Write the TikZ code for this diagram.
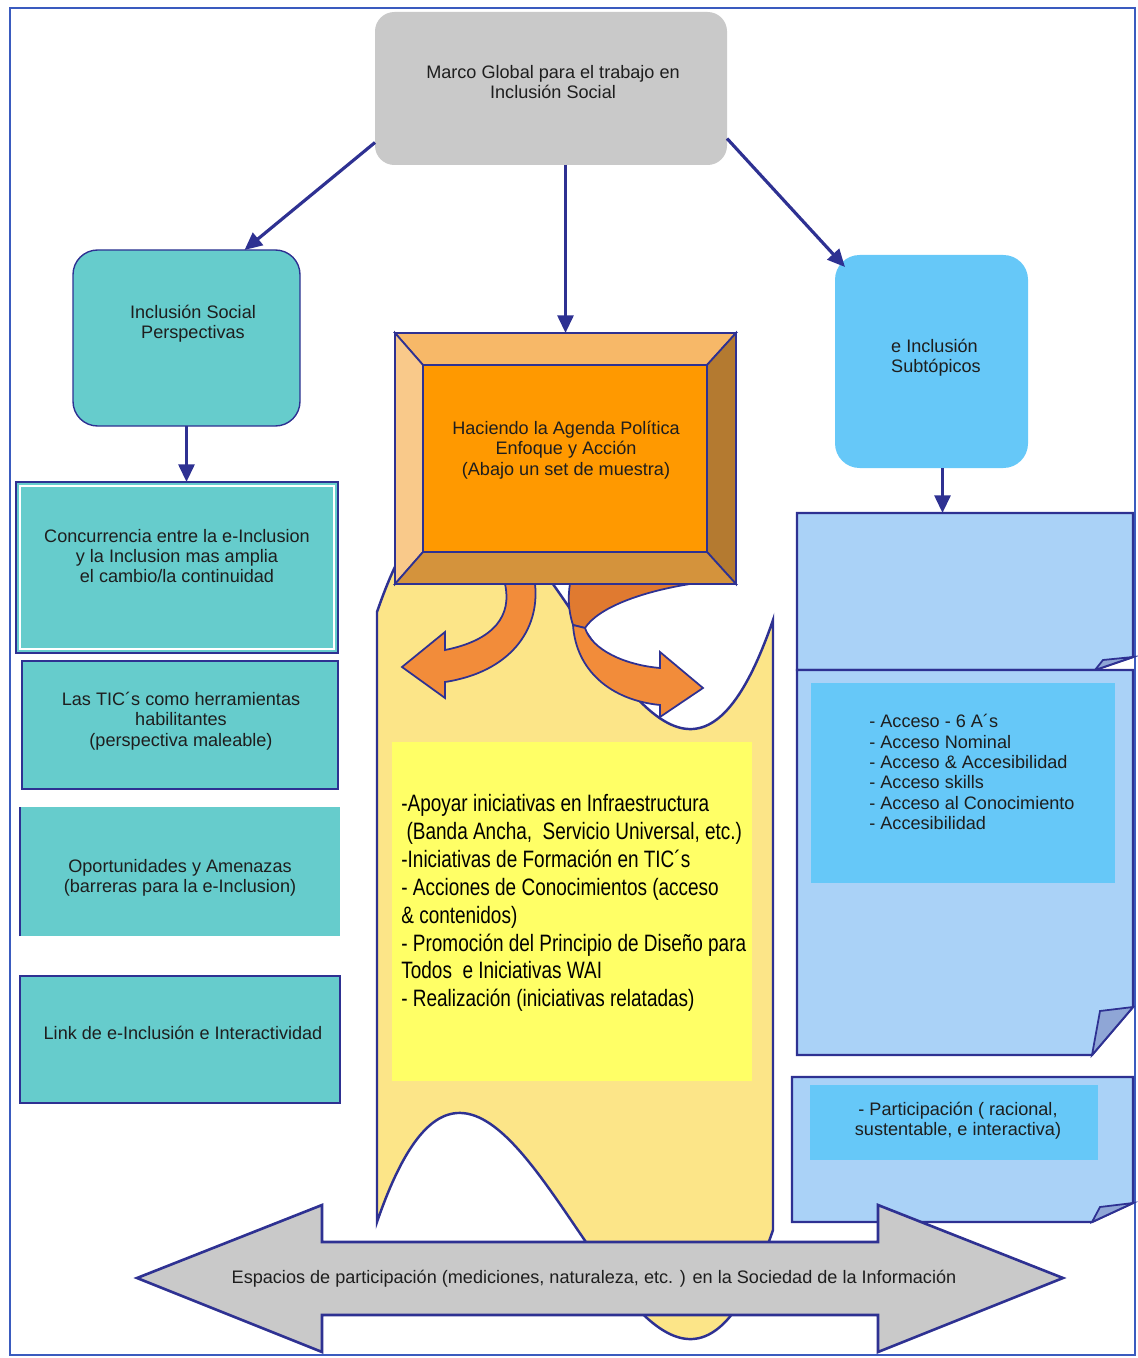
\documentclass[tikz,border=0pt]{standalone}
\usepackage{fontspec}
\setmainfont{Liberation Sans}
\newfontfamily\narrowf[FakeStretch=0.8]{Liberation Sans}
\usetikzlibrary{arrows.meta,fit,calc}
\definecolor{navy}{HTML}{2E3192}
\definecolor{framec}{HTML}{3A5BBF}
\definecolor{grayc}{HTML}{C9C9C9}
\definecolor{tealc}{HTML}{66CCCC}
\definecolor{lblue}{HTML}{66C8F8}
\definecolor{pagec}{HTML}{AAD2F7}
\definecolor{curlc}{HTML}{8FA6D6}
\definecolor{orangec}{HTML}{FF9900}
\definecolor{bevtop}{HTML}{F7B868}
\definecolor{bevleft}{HTML}{F9C98A}
\definecolor{bevright}{HTML}{B47A30}
\definecolor{bevbot}{HTML}{D4933C}
\definecolor{yelbg}{HTML}{FCE588}
\definecolor{yelin}{HTML}{FFFF66}
\definecolor{ribc}{HTML}{F28C3A}
\definecolor{ribd}{HTML}{E07A30}
\definecolor{txtc}{HTML}{1E1E1E}
\newcommand\myfs{\fontsize{10.3}{11.6}\selectfont}
\newcommand\myyfs{\narrowf\fontsize{13.5}{15.9}\selectfont}
\begin{document}
\begin{tikzpicture}[x=0.02cm,y=-0.02cm,
  fitbox/.style={inner sep=0pt, outer sep=0pt},
  txt/.style={font=\myfs, text=txtc, inner sep=0pt, align=center},
  conn/.style={draw=navy, line width=1.8pt, -{Triangle[length=10pt,width=9pt]}},
  edge/.style={draw=navy, line width=1pt}]
\useasboundingbox (0,0) rectangle (1137,1358);
% frame
\draw[framec, line width=1.4pt] (10,8) rectangle (1135,1355);

% yellow wave banner
\draw[edge, fill=yelbg, line width=1.4pt] (377,612) .. controls (508,231) and (642,1001) .. (773,620)
  -- (773,1230) .. controls (642,1611) and (508,841) .. (377,1222) -- cycle;
\node[fitbox, fit={(392,742)(752,1081)}, fill=yelin] (yin) {};

% ribbon arrows
\draw[edge, fill=ribc] (505,584) .. controls (512,615) and (495,640) .. (445,650) -- (445,632) -- (402,667)
  -- (445,698) -- (445,682) .. controls (510,672) and (540,630) .. (535,584) -- cycle;
\draw[edge, fill=ribd] (570,584) -- (690,584) .. controls (640,592) and (598,608) .. (585,628)
  -- (573,625) .. controls (568,610) and (568,595) .. (570,584) -- cycle;
\draw[edge, fill=ribc] (573,625) .. controls (576,670) and (610,700) .. (660,705) -- (660,717) -- (703,688)
  -- (660,652) -- (660,668) .. controls (625,665) and (592,650) .. (585,628) -- cycle;

% top box
\node[fitbox, fit={(375,12)(727,165)}, rounded corners=11pt, fill=grayc] (top) {};

% orange bevel box
\node[fitbox, fit={(395,333)(736,584)}] (obox) {};
\node[fitbox, fit={(423,365)(707,552)}, fill=orangec] (oin) {};
\draw[edge, fill=bevtop] (obox.north west) -- (obox.north east) -- (oin.north east) -- (oin.north west) -- cycle;
\draw[edge, fill=bevleft] (obox.north west) -- (oin.north west) -- (oin.south west) -- (obox.south west) -- cycle;
\draw[edge, fill=bevright] (obox.north east) -- (obox.south east) -- (oin.south east) -- (oin.north east) -- cycle;
\draw[edge, fill=bevbot] (obox.south west) -- (oin.south west) -- (oin.south east) -- (obox.south east) -- cycle;
\draw[navy, line width=1.6pt] (obox.north west) rectangle (obox.south east);

% left column
\node[fitbox, fit={(73,250)(300,426)}, rounded corners=14pt, fill=tealc, draw=navy, line width=0.8pt] (lbox) {};
\node[fitbox, fit={(16,482)(338,653)}, fill=tealc, draw=navy, line width=1pt] (b1) {};
\draw[white, line width=0.8pt] ([shift={(4,4)}]b1.north west) rectangle ([shift={(-4,-4)}]b1.south east);
\node[fitbox, fit={(22,661)(338,789)}, fill=tealc, draw=navy, line width=1pt] (b2) {};
\node[fitbox, fit={(20,807)(340,936)}, fill=tealc] (b3) {};
\draw[navy, line width=1pt] (b3.south west) -- (b3.north west);
\node[fitbox, fit={(20,976)(340,1103)}, fill=tealc, draw=navy, line width=1pt] (b4) {};

% right column
\node[fitbox, fit={(835,255)(1028,468)}, rounded corners=14pt, fill=lblue] (rbox) {};
\node[fitbox, fit={(797,513)(1133,670)}] (p1) {};
\draw[edge, fill=pagec, line width=1.3pt] (p1.north west) -- (p1.north east) -- (1133,657) -- (1095,670) -- (p1.south west) -- cycle;
\draw[edge, fill=curlc] (1095,670) -- (1103,660) -- (1133,657) -- cycle;
\node[fitbox, fit={(797,670)(1133,1055)}] (p2) {};
\draw[edge, fill=pagec, line width=1.3pt] (p2.north west) -- (p2.north east) -- (1133,1007) -- (1092,1055) -- (p2.south west) -- cycle;
\draw[edge, fill=curlc] (1092,1055) -- (1100,1011) -- (1133,1007) -- cycle;
\node[fitbox, fit={(811,683)(1115,883)}, fill=lblue] (p2in) {};
\node[fitbox, fit={(792,1077)(1133,1222)}] (p3) {};
\draw[edge, fill=pagec, line width=1.3pt] (p3.north west) -- (p3.north east) -- (1133,1203) -- (1092,1222) -- (p3.south west) -- cycle;
\draw[edge, fill=curlc] (1092,1222) -- (1100,1207) -- (1133,1203) -- cycle;
\node[fitbox, fit={(810,1085)(1098,1160)}, fill=lblue] (p3in) {};

% connectors
\draw[conn] ([shift={(0,54)}]top.west) -- ([shift={(58,0)}]lbox.north);
\draw[conn] (top.south -| obox.north) -- (obox.north);
\draw[conn] ([shift={(0,50)}]top.east) -- ([shift={(10,12)}]rbox.north west);
\draw[conn] (lbox.south) -- (lbox.south |- b1.north);
\draw[conn] ([shift={(11,0)}]rbox.south) -- ([shift={(11,0)}]rbox.south |- p1.north);

% bottom double arrow
\draw[fill=grayc, draw=navy, line width=1.5pt] (137,1278) -- (322,1205) -- (322,1242) -- (878,1242) -- (878,1205)
  -- (1063,1278) -- (878,1352) -- (878,1315) -- (322,1315) -- (322,1352) -- cycle;

% texts
\node[txt] (ttop) at (553,82) {Marco Global para el trabajo en\\Inclusión Social};
\node[txt] (tl) at (193,324) {Inclusión Social\\Perspectivas};
\node[txt] (t1) at (177,556) {Concurrencia entre la e-Inclusion\\y la Inclusion mas amplia\\el cambio/la continuidad};
\node[txt] (t2) at (181,721) {Las TIC´s como herramientas\\habilitantes\\(perspectiva maleable)};
\node[txt] (t3) at (180,878) {Oportunidades y Amenazas\\(barreras para la e-Inclusion)};
\node[txt] (t4) at (183,1033) {Link de e-Inclusión e Interactividad};
\node[txt] (to) at (566,450) {Haciendo la Agenda Política\\Enfoque y Acción\\(Abajo un set de muestra)};
\node[txt, align=left] (tr) at (936,358) {e Inclusión\\Subtópicos};
\node[txt, align=left, anchor=west] (tlist) at (869,772) {- Acceso - 6 A´s\\- Acceso Nominal\\- Acceso \& Accesibilidad\\- Acceso skills\\- Acceso al Conocimiento\\- Accesibilidad};
\node[txt] (tp3) at (958,1121) {- Participación ( racional,\\sustentable, e interactiva)};
\node[txt] (tesp) at (594,1279) {Espacios de participación (mediciones, naturaleza, etc. ) en la Sociedad de la Información};
\node[txt, align=left, anchor=west, font=\myyfs, text=black] (ty) at (401,903) {-Apoyar iniciativas en Infraestructura\\
\hspace{3pt}(Banda Ancha,\ \ Servicio Universal, etc.)\\
-Iniciativas de Formación en TIC´s\\
- Acciones de Conocimientos (acceso\\
\& contenidos)\\
- Promoción del Principio de Diseño para\\
Todos\ \ e Iniciativas WAI\\
- Realización (iniciativas relatadas)};
\end{tikzpicture}
\end{document}
